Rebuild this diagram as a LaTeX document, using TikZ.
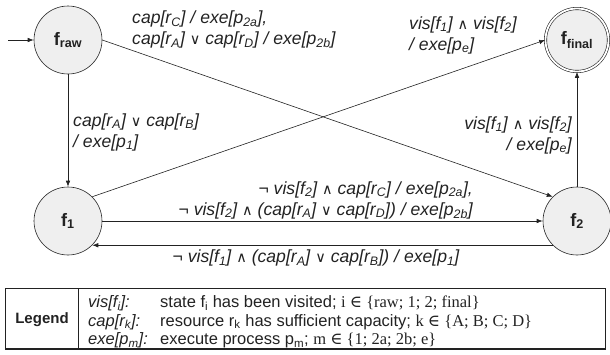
\documentclass[tikz,border=0pt]{standalone}
\usepackage{fontspec}
\setmainfont{Liberation Sans}
\newfontfamily\symf{DejaVu Sans}
\newfontfamily\serf{Liberation Serif}
\newfontfamily\serfsym{DejaVu Serif}
\usetikzlibrary{arrows.meta}
\newcommand\sbs[1]{\textsubscript{#1}}
\newcommand\myand{{\upshape\symf\fontsize{14.5}{14.5}\selectfont ∧}}
\newcommand\myor{{\upshape\symf\fontsize{14.5}{14.5}\selectfont ∨}}
\newcommand\myin{{\serfsym ∈}}
\definecolor{nodefill}{HTML}{EFEFEF}
\definecolor{ink}{HTML}{222222}
\begin{document}
\begin{tikzpicture}[x=1pt,y=-1pt,
  state/.style={circle, draw=ink, line width=0.6pt, fill=nodefill, minimum size=68pt, inner sep=0pt,
    font=\bfseries\fontsize{18}{18}\selectfont, text=ink},
  lbl/.style={font=\itshape\fontsize{17.6}{21}\selectfont, inner sep=0pt, text=ink},
  leg/.style={font=\fontsize{16.5}{18}\selectfont, inner sep=0pt, text=ink, anchor=base west},
  arr/.style={-{Latex[length=6pt,width=4.5pt]}, draw=ink, line width=0.6pt}]
\useasboundingbox (0,0) rectangle (610,354);
% states
\node[state] (fraw) at (68,40) {f\sbs{raw}};
\node[state] (f1) at (68,221) {f\sbs{1}};
\node[state] (f2) at (577,221) {f\sbs{2}};
\node[state, minimum size=63pt, double=white, double distance=1.8pt] (ffin) at (577,40) {f\sbs{final}};
\coordinate (start) at (8,40);
% edges
\draw[arr] (start) -- (fraw);
\draw[arr] (fraw) -- (f1);
\draw[arr] (fraw.east) -- (f2.north west);
\draw[arr] (f1.north east) -- (ffin.west);
\draw[arr] (f2) -- (ffin);
\draw[arr] (f1) -- (f2);
\draw[arr] (f2.south west) -- (f1.south east);
% labels
\node[lbl, anchor=west, align=left] (l1) at (132,29.5)
  {cap[r\sbs{C}] / exe[p\sbs{2a}],\\cap[r\sbs{A}] \myor\ cap[r\sbs{D}] / exe[p\sbs{2b}]};
\node[lbl, anchor=west, align=left] (l2) at (409,35)
  {vis[f\sbs{1}] \myand\ vis[f\sbs{2}]\\/ exe[p\sbs{e}]};
\node[lbl, anchor=west, align=left] (l3) at (73,132)
  {cap[r\sbs{A}] \myor\ cap[r\sbs{B}]\\/ exe[p\sbs{1}]};
\node[lbl, anchor=east, align=right] (l4) at (572,135)
  {vis[f\sbs{1}] \myand\ vis[f\sbs{2}]\\/ exe[p\sbs{e}]};
\node[lbl, anchor=east, align=right] (l5) at (473,200)
  {¬ vis[f\sbs{2}] \myand\ cap[r\sbs{C}] / exe[p\sbs{2a}],\\¬ vis[f\sbs{2}] \myand\ (cap[r\sbs{A}] \myor\ cap[r\sbs{D}]) / exe[p\sbs{2b}]};
\node[lbl, anchor=center] (l6) at (316,258)
  {¬ vis[f\sbs{1}] \myand\ (cap[r\sbs{A}] \myor\ cap[r\sbs{B}]) / exe[p\sbs{1}]};
% legend
\draw[ink, line width=0.8pt] (5,288) rectangle (605,349);
\draw[ink, line width=1.4pt] (5,349) -- (605,349);
\draw[ink, line width=0.8pt] (78,288) -- (78,349);
\node[font=\bfseries\fontsize{15}{18}\selectfont, text=ink, inner sep=0pt] (legt) at (42,320) {Legend};
\node[leg, font=\itshape\fontsize{16.5}{18}\selectfont] (k1) at (88,307.5) {vis[f\sbs{i}]:};
\node[leg, font=\itshape\fontsize{16.5}{18}\selectfont] (k2) at (88,326) {cap[r\sbs{k}]:};
\node[leg, font=\itshape\fontsize{16.5}{18}\selectfont] (k3) at (88,344.5) {exe[p\sbs{m}]:};
\node[leg] (d1) at (160,307.5) {state f\sbs{i} has been visited; {\serf i \myin\ \{raw; 1; 2; final\}}};
\node[leg] (d2) at (160,326) {resource r\sbs{k} has sufficient capacity; {\serf k \myin\ \{A; B; C; D\}}};
\node[leg] (d3) at (160,344.5) {execute process p\sbs{m}; {\serf m \myin\ \{1; 2a; 2b; e\}}};
\end{tikzpicture}
\end{document}
